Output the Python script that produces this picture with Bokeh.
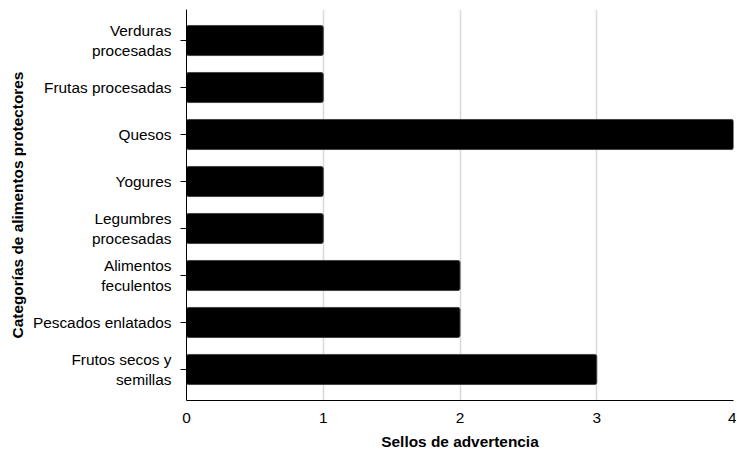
from bokeh.plotting import figure
from bokeh.models import ColumnDataSource, Range1d, FixedTicker
from bokeh.embed import file_html
from bokeh.resources import INLINE

categories = ["Verduras\nprocesadas", "Frutas procesadas", "Quesos", "Yogures",
              "Legumbres\nprocesadas", "Alimentos\nfeculentos", "Pescados enlatados",
              "Frutos secos y\nsemillas"]
values = [1, 1, 4, 1, 1, 2, 2, 3]
x_ticks = [0, 1, 2, 3, 4]

pos = list(range(len(categories)))
src = ColumnDataSource(dict(y=pos, v=values))

p = figure(frame_width=547, frame_height=391, output_backend="svg", toolbar_location=None,
           x_range=Range1d(0, 4), y_range=Range1d(len(categories) - 0.34, -0.66),
           min_border_left=186, min_border_top=9, min_border_right=3, min_border_bottom=0)
p.hbar(y="y", right="v", left=0, height=0.64, source=src, fill_color="black",
       line_color="#444444", line_width=1, border_radius=2)

p.outline_line_color = None
p.ygrid.grid_line_color = None
p.xgrid.grid_line_color = "#d9d9d9"
p.xgrid.grid_line_width = 1.5
p.xaxis.ticker = FixedTicker(ticks=x_ticks)
p.yaxis.ticker = FixedTicker(ticks=pos)
p.yaxis.major_label_overrides = {i: c for i, c in enumerate(categories)}

font = "Liberation Sans"
for ax in (p.xaxis, p.yaxis):
    ax.axis_line_color = "black"
    ax.axis_line_width = 1
    ax.major_label_text_font = font
    ax.major_label_text_font_size = "15.4px"
    ax.major_label_text_color = "black"
    ax.axis_label_text_font = font
    ax.axis_label_text_font_size = "15.4px"
    ax.axis_label_text_font_style = "bold"
    ax.axis_label_text_color = "black"
    ax.minor_tick_line_color = None

p.xaxis.major_tick_line_color = None
p.xaxis.major_tick_in = 0
p.xaxis.major_tick_out = 0
p.xaxis.major_label_standoff = 12
p.xaxis.axis_label = "Sellos de advertencia"
p.xaxis.axis_label_standoff = 7

p.yaxis.major_tick_in = 0
p.yaxis.major_tick_out = 6
p.yaxis.major_tick_line_color = "black"
p.yaxis.major_label_standoff = 9
p.yaxis.axis_label = "Categorías de alimentos protectores"
p.yaxis.axis_label_standoff = 4

open("out.html", "w").write(file_html(p, INLINE))
